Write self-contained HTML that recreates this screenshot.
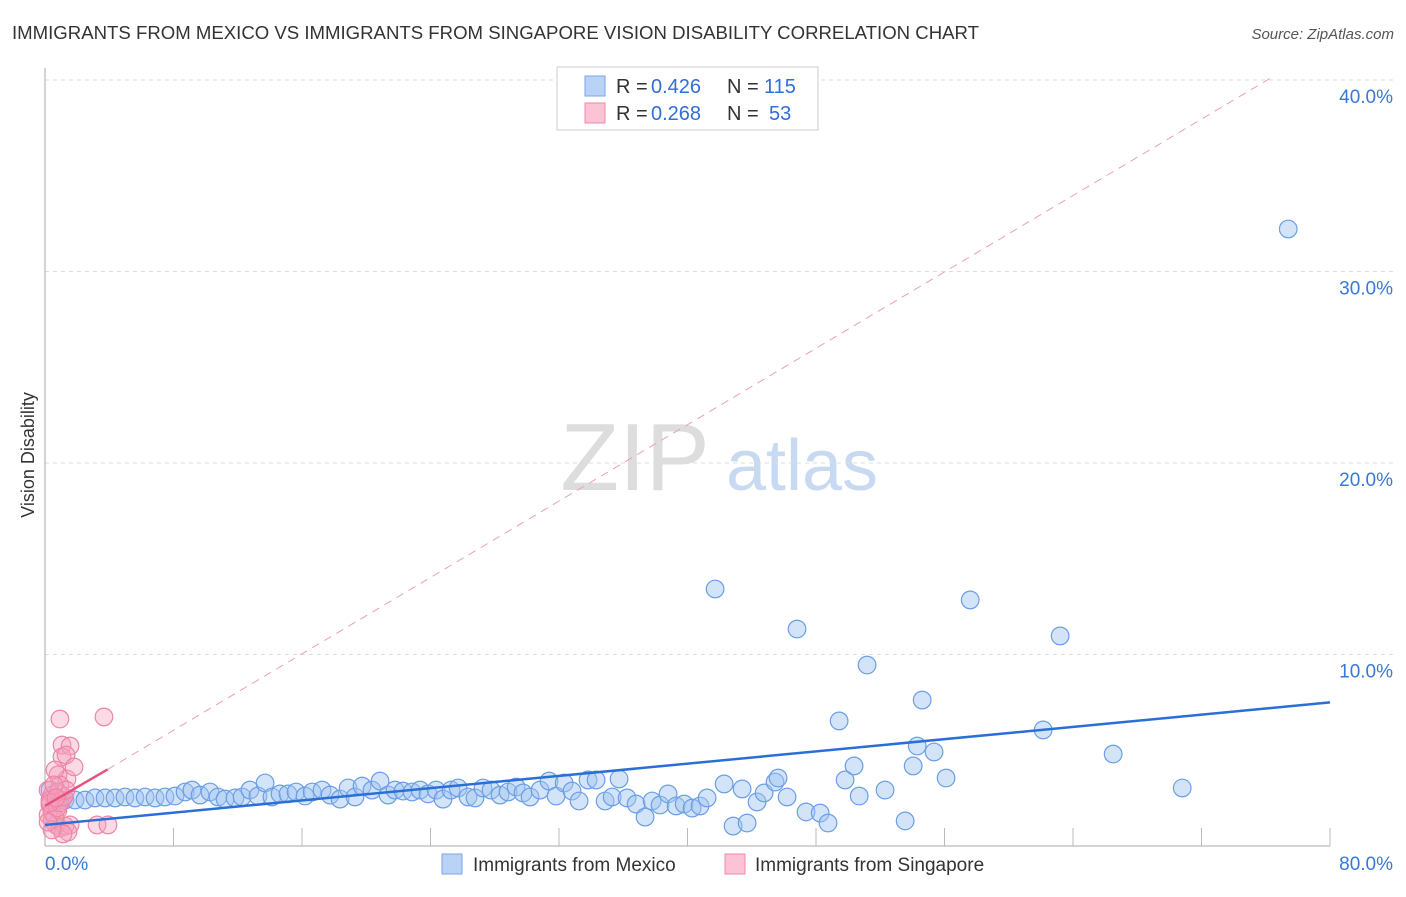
<!DOCTYPE html>
<html><head><meta charset="utf-8"><style>
body{margin:0;background:#fff;font-family:"Liberation Sans",sans-serif}
svg text{font-family:"Liberation Sans",sans-serif}
</style></head><body>
<svg width="1406" height="892" viewBox="0 0 1406 892">
<text x="12" y="39" font-size="18.6" fill="#333">IMMIGRANTS FROM MEXICO VS IMMIGRANTS FROM SINGAPORE VISION DISABILITY CORRELATION CHART</text>
<text x="1394" y="39" font-size="15" fill="#555" font-style="italic" text-anchor="end">Source: ZipAtlas.com</text>
<text x="34" y="455" font-size="18" fill="#333" text-anchor="middle" transform="rotate(-90 34 455)">Vision Disability</text>
<g><text x="635" y="490" font-size="96" fill="#ddd" font-family="Liberation Serif" text-anchor="middle">ZIP</text><text x="802" y="490" font-size="72" fill="#c8daf2" text-anchor="middle">atlas</text></g>
<g id="grid"></g><g id="axes"></g><g id="marks"></g>
<g>
<rect x="557" y="67" width="261" height="63" fill="#fff" stroke="#ccc"/>
<rect x="585" y="76" width="20" height="20" fill="#b9d3f6" stroke="#7aa6e6"/>
<rect x="585" y="103" width="20" height="20" fill="#fbc3d3" stroke="#ee8aa8"/>
<text x="616" y="93" font-size="20" fill="#333">R =</text><text x="651" y="93" font-size="20" fill="#2f6fd6">0.426</text>
<text x="727" y="93" font-size="20" fill="#333">N =</text><text x="764" y="93" font-size="20" fill="#2f6fd6">115</text>
<text x="616" y="120" font-size="20" fill="#333">R =</text><text x="651" y="120" font-size="20" fill="#2f6fd6">0.268</text>
<text x="727" y="120" font-size="20" fill="#333">N =</text><text x="769" y="120" font-size="20" fill="#2f6fd6">53</text>
</g>
<g>
<rect x="442" y="854" width="20" height="20" fill="#b9d3f6" stroke="#7aa6e6"/>
<text x="473" y="871" font-size="19" fill="#333">Immigrants from Mexico</text>
<rect x="725" y="854" width="20" height="20" fill="#fbc3d3" stroke="#ee8aa8"/>
<text x="755" y="871" font-size="19" fill="#333">Immigrants from Singapore</text>
</g>
</svg>
<script>
const xTicks=[0,80];
const yTicks=[10,20,30,40];
const blueX=[0.31,0.81,1.25,1.87,2.49,3.11,3.74,4.36,4.98,5.60,6.23,6.85,7.47,8.09,8.72,9.15,9.65,10.27,10.77,11.21,11.83,12.27,12.76,13.26,13.70,14.13,14.63,15.13,15.63,16.19,16.63,17.25,17.75,18.37,18.87,19.30,19.74,20.36,20.86,21.36,21.79,22.29,22.85,23.35,23.85,24.35,24.78,25.28,25.72,26.34,26.77,27.27,27.77,28.33,28.83,29.33,29.76,30.20,30.82,31.38,31.82,32.32,32.81,33.25,33.81,34.31,34.87,35.31,35.74,36.24,36.80,37.36,37.80,38.29,38.79,39.29,39.79,40.29,40.78,41.22,41.72,42.28,42.84,43.40,43.71,44.33,44.77,45.45,45.64,46.20,46.82,47.38,48.26,48.75,49.44,49.81,50.37,50.69,51.18,52.30,53.55,54.05,54.30,54.61,55.35,56.10,57.60,62.14,63.20,66.50,70.80,77.40];
const blueY=[2.92,2.40,2.40,2.40,2.40,2.51,2.51,2.51,2.56,2.51,2.56,2.51,2.56,2.61,2.82,2.92,2.66,2.82,2.56,2.45,2.51,2.56,2.92,2.61,3.29,2.56,2.72,2.72,2.82,2.61,2.82,2.92,2.66,2.45,3.03,2.56,3.13,2.92,3.39,2.66,2.92,2.87,2.82,2.92,2.72,2.92,2.45,2.92,3.03,2.56,2.51,3.03,2.92,2.66,2.82,3.08,2.77,2.56,2.92,3.39,2.61,3.29,2.87,2.35,3.45,3.45,2.35,2.56,3.50,2.51,2.19,1.51,2.35,2.14,2.72,2.09,2.19,1.98,2.09,2.51,13.42,3.24,1.04,2.98,1.20,2.30,2.77,3.34,3.55,2.56,11.33,1.78,1.72,1.20,6.53,3.45,4.18,2.61,9.45,2.92,1.31,4.18,5.22,7.62,4.91,3.55,12.85,6.06,10.97,4.80,3.03,32.22];
const pinkX=[0.93,3.67,1.06,1.56,1.06,1.31,0.81,1.37,1.81,0.62,0.93,0.44,0.62,0.31,0.19,0.44,0.68,0.93,1.25,1.56,0.81,1.06,0.19,0.44,0.62,0.31,0.75,0.93,1.18,1.43,1.12,3.24,3.92,0.44,0.19,0.81,1.31,0.56,0.31,0.68];
const pinkY=[6.63,6.74,5.27,5.22,4.65,4.75,3.71,3.50,4.13,3.97,3.19,2.66,2.40,2.14,1.62,1.36,1.10,0.94,1.04,1.10,1.88,2.40,2.92,1.78,1.46,2.40,1.98,2.25,2.56,0.73,0.63,1.10,1.10,0.84,1.25,2.82,2.92,3.19,2.25,2.51];
const blueTrend=[[0,1.1],[80,7.5]];
const pinkTrend=[[0,2.1],[3.9,4.0]];
const pinkDash=[[3.9,4.0],[76.5,40.2]];
const NS="http://www.w3.org/2000/svg";
const X=v=>45+v*(1285/80), Y=v=>846-v*19.15;
function mk(tag,attrs,parent){const e=document.createElementNS(NS,tag);for(const k in attrs)e.setAttribute(k,attrs[k]);document.getElementById(parent).appendChild(e);return e;}
yTicks.forEach(t=>{
 const l=mk('line',{x1:45,x2:1395,y1:Y(t),y2:Y(t),stroke:'#ddd','stroke-dasharray':'4,4'},'grid');
 
 
 const tx=mk('text',{x:1393,y:Y(t)+23,'font-size':19,fill:'#3a78d6','text-anchor':'end'},'grid');tx.textContent=t.toFixed(1)+'%';
 
 
});
mk('line',{x1:45,x2:45,y1:68,y2:846,stroke:'#aaa'},'axes');
mk('line',{x1:45,x2:1330,y1:846,y2:846,stroke:'#aaa'},'axes');
for(let i=1;i<=10;i++){mk('line',{x1:X(i*8),x2:X(i*8),y1:828,y2:846,stroke:'#bbb'},'axes');}
xTicks.forEach((t,i)=>{
 const tx=mk('text',{x:i==0?45:1393,y:870,'font-size':19,fill:'#3a78d6','text-anchor':i==0?'start':'end'},'axes');tx.textContent=t.toFixed(1)+'%';
 
 
});
blueX.forEach((v,i)=>{
 const c=mk('circle',{cx:X(v),cy:Y(blueY[i]),r:8.8,fill:'rgba(160,196,240,0.45)',stroke:'#6a9ee6','stroke-width':1.2},'marks');
 
 
});
pinkX.forEach((v,i)=>{
 const c=mk('circle',{cx:X(v),cy:Y(pinkY[i]),r:8.8,fill:'rgba(246,160,190,0.4)',stroke:'#ec86a6','stroke-width':1.2},'marks');
 
 
});
const bt=mk('line',{x1:X(blueTrend[0][0]),y1:Y(blueTrend[0][1]),x2:X(blueTrend[1][0]),y2:Y(blueTrend[1][1]),stroke:'#2a6fd6','stroke-width':2.5},'marks');


const pt=mk('line',{x1:X(pinkTrend[0][0]),y1:Y(pinkTrend[0][1]),x2:X(pinkTrend[1][0]),y2:Y(pinkTrend[1][1]),stroke:'#e8507e','stroke-width':2.5},'marks');


const pd=mk('line',{x1:X(pinkDash[0][0]),y1:Y(pinkDash[0][1]),x2:X(pinkDash[1][0]),y2:Y(pinkDash[1][1]),stroke:'#eba0b6','stroke-width':1,'stroke-dasharray':'8,6'},'marks');


</script>
</body></html>
